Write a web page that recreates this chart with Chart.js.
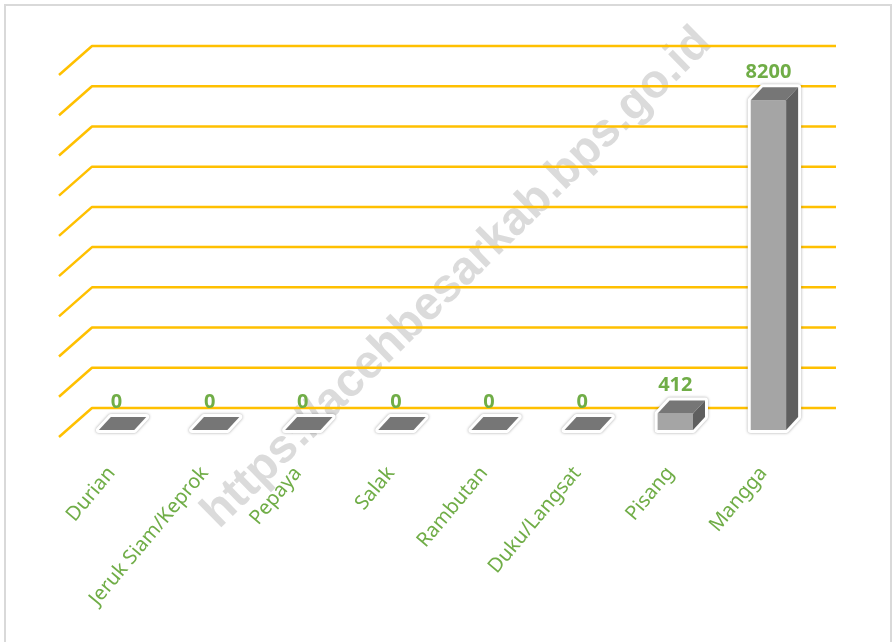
<!DOCTYPE html>
<html>
<head>
<meta charset="utf-8">
<script src="https://cdn.jsdelivr.net/npm/chart.js@4.4.1/dist/chart.umd.min.js"></script>
<style>
  body { margin: 0; background: #fff; }
  #wrap { width: 893px; height: 642px; }
</style>
</head>
<body>
<div id="wrap"><canvas id="myChart" width="893" height="642"></canvas></div>
<script>
var categories = ["Durian", "Jeruk Siam/Keprok", "Pepaya", "Salak", "Rambutan", "Duku/Langsat", "Pisang", "Mangga"];
var produksi = [0, 0, 0, 0, 0, 0, 412, 8200];
var yTicks = [0, 1000, 2000, 3000, 4000, 5000, 6000, 7000, 8000, 9000];
var watermark = "https://acehbesarkab.bps.go.id";

var green = "#70ad47";
var gold = "#ffc000";

// depth of the 3d floor / walls
var wallDx = 33, wallDy = -29;
var barDx = 12, barDy = -13;

var backdrop = {
  id: "backdrop",
  beforeDraw: function (chart) {
    var ctx = chart.ctx;
    ctx.save();
    ctx.fillStyle = "#fff";
    ctx.fillRect(0, 0, chart.width, chart.height);
    ctx.strokeStyle = "#d9d9d9";
    ctx.lineWidth = 2;
    ctx.strokeRect(5, 5, 886, 640);

    // watermark behind the grid
    ctx.translate(457, 278);
    ctx.rotate(-Math.PI / 4 + 0.01);
    ctx.font = "bold 47px 'Liberation Sans'";
    ctx.fillStyle = "rgba(200,200,200,0.65)";
    ctx.textAlign = "center";
    ctx.textBaseline = "middle";
    ctx.fillText(watermark, 0, 0);
    ctx.restore();
  },
  beforeDatasetsDraw: function (chart) {
    var ctx = chart.ctx;
    var area = chart.chartArea;
    var y = chart.scales.y;
    ctx.save();
    ctx.strokeStyle = gold;
    ctx.lineWidth = 2.5;
    ctx.lineJoin = "round";
    yTicks.forEach(function (v) {
      var py = y.getPixelForValue(v);
      ctx.beginPath();
      ctx.moveTo(area.left - 11, py + 7);
      ctx.lineTo(area.left - 11 + wallDx, py + 7 + wallDy);
      ctx.lineTo(area.right + 21, py + 7 + wallDy);
      ctx.stroke();
    });

    // white halo behind each bar
    var meta = chart.getDatasetMeta(0);
    meta.data.forEach(function (bar) {
      var l = bar.x - bar.width / 2, r = bar.x + bar.width / 2;
      ctx.beginPath();
      ctx.moveTo(l, bar.base);
      ctx.lineTo(l, bar.y);
      ctx.lineTo(l + barDx, bar.y + barDy);
      ctx.lineTo(r + barDx, bar.y + barDy);
      ctx.lineTo(r + barDx, bar.base + barDy);
      ctx.lineTo(r, bar.base);
      ctx.closePath();
      ctx.shadowColor = "rgba(0,0,0,0.35)";
      ctx.shadowBlur = 3;
      ctx.strokeStyle = "#fff";
      ctx.lineWidth = 6;
      ctx.stroke();
      ctx.shadowColor = "transparent";
      ctx.fillStyle = "#fff";
      ctx.fill();
    });
    ctx.restore();
  },
  afterDatasetsDraw: function (chart) {
    var ctx = chart.ctx;
    var meta = chart.getDatasetMeta(0);
    ctx.save();
    meta.data.forEach(function (bar, i) {
      var l = bar.x - bar.width / 2, r = bar.x + bar.width / 2;
      // top face
      ctx.fillStyle = "#767676";
      ctx.beginPath();
      ctx.moveTo(l, bar.y);
      ctx.lineTo(l + barDx, bar.y + barDy);
      ctx.lineTo(r + barDx, bar.y + barDy);
      ctx.lineTo(r, bar.y);
      ctx.closePath();
      ctx.fill();
      // side face
      if (bar.base - bar.y > 0.5) {
        ctx.fillStyle = "#5f5f5f";
        ctx.beginPath();
        ctx.moveTo(r, bar.y);
        ctx.lineTo(r + barDx, bar.y + barDy);
        ctx.lineTo(r + barDx, bar.base + barDy);
        ctx.lineTo(r, bar.base);
        ctx.closePath();
        ctx.fill();
      }
      // value label
      ctx.fillStyle = green;
      ctx.font = "bold 20px 'Noto Sans'";
      ctx.textAlign = "center";
      ctx.textBaseline = "alphabetic";
      ctx.fillText(String(produksi[i]), bar.x, bar.y - 22);
    });
    ctx.restore();
  }
};

var ctx = document.getElementById("myChart").getContext("2d");
var myChart = new Chart(ctx, {
  type: "bar",
  data: {
    labels: categories,
    datasets: [
      {
        label: "Produksi",
        data: produksi,
        backgroundColor: "#a5a5a5",
        borderWidth: 0,
        categoryPercentage: 1,
        barPercentage: 0.38,
      },
    ],
  },
  options: {
    responsive: false,
    animation: false,
    layout: {
      padding: { left: 70, right: 78, top: 68, bottom: 0 },
    },
    plugins: {
      legend: { display: false },
      tooltip: { enabled: false },
    },
    scales: {
      x: {
        grid: { display: false },
        border: { display: false },
        ticks: {
          color: green,
          font: { family: "'Noto Sans'", size: 20 },
          minRotation: 50,
          maxRotation: 50,
          autoSkip: false,
          padding: 24,
          labelOffset: -5,
        },
        afterFit: function (scale) {
          scale.height = 212;
        },
      },
      y: {
        min: 0,
        max: 9000,
        grid: { display: false },
        border: { display: false },
        ticks: { display: false, stepSize: 1000 },
        afterFit: function (scale) {
          scale.width = 0;
        },
      },
    },
  },
  plugins: [backdrop],
});
</script>
</body>
</html>
